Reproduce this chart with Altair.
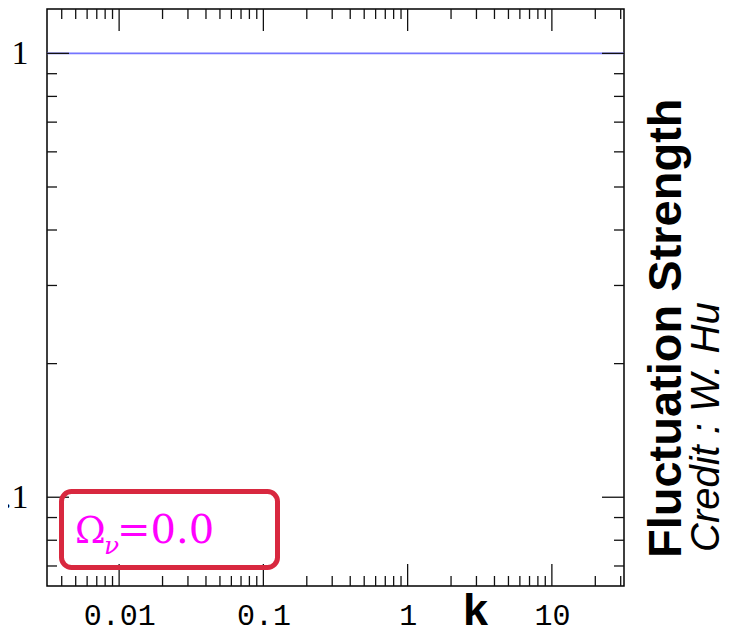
import altair as alt
import pandas as pd

# ---- data ----
k_line = [0.00316, 31.6]
strength_line = [1.0, 1.0]

x_major = [0.01, 0.1, 1, 10]
x_minor = [0.004, 0.005, 0.006, 0.007, 0.008, 0.009,
           0.02, 0.03, 0.04, 0.05, 0.06, 0.07, 0.08, 0.09,
           0.2, 0.3, 0.4, 0.5, 0.6, 0.7, 0.8, 0.9,
           2, 3, 4, 5, 6, 7, 8, 9,
           20, 30]
y_major = [0.1, 1]
y_minor = [0.07, 0.08, 0.09, 0.2, 0.3, 0.4, 0.5, 0.6, 0.7, 0.8, 0.9]

W = 577
H = 577

xs = alt.Scale(type="log", domain=[10 ** -2.5, 10 ** 1.5], nice=False)
ys = alt.Scale(type="log", domain=[10 ** -1.2, 10 ** 0.1], nice=False)

x_axis = alt.Axis(values=x_major, format="~g", ticks=False, tickSize=0, domain=False,
                  grid=False, labelFont="Liberation Mono", labelFontSize=30,
                  labelColor="black", labelPadding=38, labelBaseline="alphabetic",
                  labelFlush=False, labelOverlap=False,
                  title="k", titleFont="Liberation Sans", titleFontWeight="bold",
                  titleFontSize=45, titleColor="black", titleX=428, titleY=38,
                  titleBaseline="alphabetic", titleAlign="center")
y_axis = alt.Axis(values=y_major, labelExpr="datum.value >= 1 ? '1' : '.1'",
                  ticks=False, tickSize=0, domain=False, grid=False,
                  labelFont="Liberation Serif", labelFontSize=34, labelColor="black",
                  labelPadding=19, labelFlush=False, labelOverlap=False, title="")

X = alt.X("k:Q", scale=xs, axis=x_axis)
Y = alt.Y("strength:Q", scale=ys, axis=y_axis)

line_df = pd.DataFrame({"k": k_line, "strength": strength_line})
line = alt.Chart(line_df).mark_line(color="#7474ff", strokeWidth=1.8, clip=True).encode(x=X, y=Y)

tick_style = dict(color="#111111", strokeWidth=1.3)
MAJ = 22
MIN = 10

def xticks(vals, length):
    df = pd.DataFrame({"k": vals})
    bottom = alt.Chart(df).mark_rule(**tick_style).encode(
        x=X, y=alt.value(H), y2=alt.value(H - length))
    top = alt.Chart(df).mark_rule(**tick_style).encode(
        x=X, y=alt.value(0), y2=alt.value(length))
    return [bottom, top]

def yticks(vals, length):
    df = pd.DataFrame({"strength": vals})
    left = alt.Chart(df).mark_rule(**tick_style).encode(
        y=Y, x=alt.value(0), x2=alt.value(length))
    right = alt.Chart(df).mark_rule(**tick_style).encode(
        y=Y, x=alt.value(W), x2=alt.value(W - length))
    return [left, right]

ticks = xticks(x_minor, MIN) + xticks(x_major, MAJ) + yticks(y_minor, MIN) + yticks(y_major, MAJ)

one = pd.DataFrame({"a": [0]})

box = alt.Chart(one).mark_rect(fillOpacity=0, stroke="#d8283f", strokeWidth=5,
                               cornerRadius=10).encode(
    x=alt.value(14.5), x2=alt.value(230.5), y=alt.value(482.5), y2=alt.value(558.5))

omega = alt.Chart(one).mark_text(text="Ω", font="DejaVu Serif", fontSize=37,
                                 color="#ff00ff", align="left", baseline="alphabetic").encode(
    x=alt.value(28), y=alt.value(534))
nu = alt.Chart(one).mark_text(text="ν", font="DejaVu Serif", fontSize=25, fontStyle="italic",
                              color="#ff00ff", align="left", baseline="alphabetic").encode(
    x=alt.value(57), y=alt.value(545))
eq = alt.Chart(one).mark_text(text="=0.0", font="DejaVu Serif", fontSize=40,
                              color="#ff00ff", align="left", baseline="alphabetic").encode(
    x=alt.value(70), y=alt.value(534))

title1 = alt.Chart(one).mark_text(text="Fluctuation Strength", font="Liberation Sans",
                                  fontWeight="bold", fontSize=47, color="black", angle=270,
                                  align="left", baseline="alphabetic").encode(
    x=alt.value(634), y=alt.value(549))
title2 = alt.Chart(one).mark_text(text="Credit : W. Hu", font="Liberation Sans",
                                  fontStyle="italic", fontSize=40, color="black", angle=270,
                                  align="left", baseline="alphabetic").encode(
    x=alt.value(672), y=alt.value(543))

chart = alt.layer(line, *ticks, box, omega, nu, eq, title1, title2).properties(
    width=W, height=H,
    autosize=alt.AutoSizeParams(type="none"),
    padding={"left": 39, "top": 1, "right": 97, "bottom": 39},
).configure_view(stroke="black", strokeWidth=1.5)

chart.save("out.html", embed_options={"renderer": "svg", "actions": False})
